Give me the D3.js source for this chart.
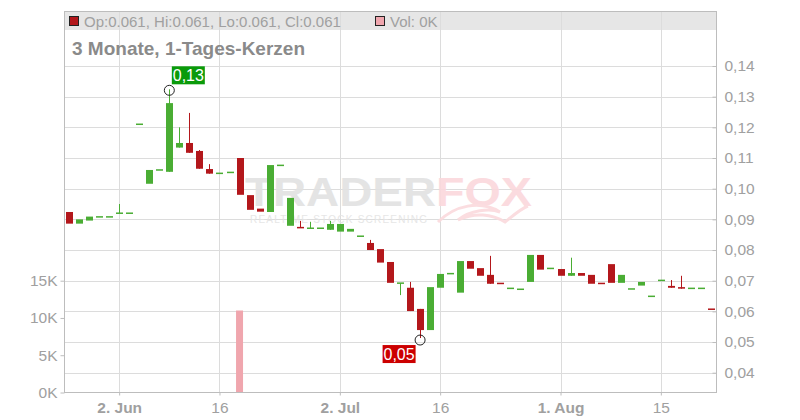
<!DOCTYPE html>
<html><head><meta charset="utf-8">
<script src="https://cdn.jsdelivr.net/npm/d3@7"></script>
<style>body{margin:0;background:#fff}svg{display:block;font-family:"Liberation Sans",Arial,sans-serif}</style>
</head><body><svg id="c" width="800" height="420"></svg>
<script>
const dates = ["2025-05-26","2025-05-27","2025-05-28","2025-05-29","2025-05-30",
"2025-06-02","2025-06-03","2025-06-04","2025-06-05","2025-06-06","2025-06-09","2025-06-10","2025-06-11","2025-06-12","2025-06-13",
"2025-06-16","2025-06-17","2025-06-18","2025-06-19","2025-06-20","2025-06-23","2025-06-24","2025-06-25","2025-06-26","2025-06-27","2025-06-30",
"2025-07-01","2025-07-02","2025-07-03","2025-07-04","2025-07-07","2025-07-08","2025-07-09","2025-07-10","2025-07-11",
"2025-07-14","2025-07-15","2025-07-16","2025-07-17","2025-07-18","2025-07-21","2025-07-22","2025-07-23","2025-07-24","2025-07-25",
"2025-07-28","2025-07-29","2025-07-30","2025-07-31","2025-08-01","2025-08-04","2025-08-05","2025-08-06","2025-08-07","2025-08-08",
"2025-08-11","2025-08-12","2025-08-13","2025-08-14","2025-08-15","2025-08-18","2025-08-19","2025-08-20","2025-08-21","2025-08-22"];
const open  = [0.0924,0.0886,0.0896,0.0908,0.0908,0.0920,0.0920,0.1210,0.1016,0.1061,0.1055,0.1134,0.1149,0.1123,0.1064,0.1050,0.1053,0.1100,0.0979,0.0935,0.0924,0.1076,0.0879,0.0873,0.0871,0.0871,0.0866,0.0860,0.0860,0.0845,0.0823,0.0803,0.0761,0.0692,0.0677,0.0608,0.0539,0.0677,0.0721,0.0661,0.0764,0.0741,0.0719,0.0691,0.0675,0.0672,0.0696,0.0784,0.0740,0.0738,0.0716,0.0725,0.0719,0.0691,0.0754,0.0693,0.0673,0.0684,0.0649,0.0701,0.0683,0.0679,0.0675,0.0675,0.0607];
const high  = [0.0924,0.0900,0.0909,0.0908,0.0908,0.0950,0.0920,0.1210,0.1061,0.1061,0.1324,0.1200,0.1247,0.1126,0.1080,0.1050,0.1053,0.1100,0.0979,0.0935,0.1077,0.1076,0.0970,0.0895,0.0892,0.0871,0.0895,0.0885,0.0869,0.0845,0.0833,0.0803,0.0761,0.0692,0.0696,0.0608,0.0679,0.0722,0.0725,0.0764,0.0764,0.0741,0.0781,0.0691,0.0675,0.0672,0.0784,0.0784,0.0740,0.0738,0.0775,0.0725,0.0719,0.0691,0.0754,0.0719,0.0673,0.0696,0.0649,0.0701,0.0702,0.0716,0.0675,0.0675,0.0607];
const low   = [0.0886,0.0886,0.0896,0.0908,0.0908,0.0920,0.0920,0.1210,0.1016,0.1061,0.1055,0.1134,0.1117,0.1065,0.1049,0.1050,0.1053,0.0980,0.0931,0.0925,0.0924,0.1076,0.0879,0.0873,0.0871,0.0871,0.0866,0.0860,0.0860,0.0845,0.0800,0.0759,0.0693,0.0653,0.0601,0.0513,0.0539,0.0677,0.0721,0.0661,0.0739,0.0716,0.0690,0.0691,0.0675,0.0672,0.0696,0.0736,0.0738,0.0716,0.0716,0.0716,0.0690,0.0691,0.0693,0.0693,0.0673,0.0684,0.0649,0.0701,0.0677,0.0674,0.0675,0.0675,0.0607];
const close = [0.0886,0.0900,0.0909,0.0908,0.0908,0.0920,0.0920,0.1210,0.1061,0.1061,0.1279,0.1149,0.1117,0.1065,0.1049,0.1050,0.1053,0.0980,0.0931,0.0925,0.1077,0.1076,0.0970,0.0873,0.0871,0.0871,0.0885,0.0885,0.0869,0.0845,0.0800,0.0759,0.0693,0.0692,0.0601,0.0539,0.0679,0.0722,0.0725,0.0764,0.0739,0.0716,0.0690,0.0691,0.0675,0.0672,0.0784,0.0736,0.0740,0.0716,0.0725,0.0716,0.0690,0.0691,0.0693,0.0719,0.0673,0.0696,0.0649,0.0701,0.0677,0.0674,0.0675,0.0675,0.0607];
const up    = [0,1,1,1,1,1,1,1,1,1,1,1,0,0,0,1,1,0,0,0,1,1,1,0,1,1,1,1,1,1,0,0,0,1,0,0,1,1,1,1,0,0,0,0,1,1,1,0,1,0,1,0,0,0,0,1,1,1,1,1,0,0,1,1,0];
const volume = [0,0,0,0,0,0,0,0,0,0,0,0,0,0,0,0,0,11000,0,0,0,0,0,0,0,0,0,0,0,0,0,0,0,0,0,0,0,0,0,0,0,0,0,0,0,0,0,0,0,0,0,0,0,0,0,0,0,0,0,0,0,0,0,0,0];
const priceTicks = [0.04,0.05,0.06,0.07,0.08,0.09,0.10,0.11,0.12,0.13,0.14];
const volTicks = [0,5000,10000,15000];
const xTickDates = ["2025-06-02","2025-06-16","2025-07-02","2025-07-16","2025-08-01","2025-08-15"];
const xTickLabels = ["2. Jun","16","2. Jul","16","1. Aug","15"];
const xTickBold = [true,false,true,false,true,false];
const hiIdx = 10, loIdx = 35;
const hiLabel = "0,13", loLabel = "0,05";
const legendText = "Op:0.061, Hi:0.061, Lo:0.061, Cl:0.061";
const volLegend = "Vol: 0K";
const title = "3 Monate, 1-Tages-Kerzen";

const L = 64, R = 716, T = 11.5, B = 392.5;
const GREEN = "#4aad34", RED = "#b3171b", GRID = "#dcdcdc", AX = "#bdbdbd", TXT = "#a0a0a0";
const svg = d3.select("#c");
const x = d3.scalePoint().domain(dates).range([L, R]).padding(0.5);
const y = d3.scaleLinear().domain([0.04, 0.14]).range([372.7, 66]);
const yv = d3.scaleLinear().domain([0, 15000]).range([B, 280.7]);
const fmt = d3.format(".2f");

// legend bar bg
svg.append("rect").attr("x", L).attr("y", T).attr("width", R - L).attr("height", 18.5).attr("fill", "#e6e6e6");

// grid
svg.append("g").selectAll("line").data(priceTicks).join("line")
  .attr("x1", L).attr("x2", R).attr("y1", d => Math.round(y(d)) + 0.5).attr("y2", d => Math.round(y(d)) + 0.5)
  .attr("stroke", GRID).attr("stroke-width", 1);
svg.append("g").selectAll("line").data(xTickDates).join("line")
  .attr("x1", d => Math.round(x(d)) + 0.5).attr("x2", d => Math.round(x(d)) + 0.5).attr("y1", T).attr("y2", B)
  .attr("stroke", GRID).attr("stroke-width", 1);

// watermark
const wm = svg.append("g").attr("opacity", 0.9);
wm.append("text").attr("x", 245).attr("y", 205.5).attr("font-size", 40).attr("font-weight", "bold")
  .attr("textLength", 191).attr("lengthAdjust", "spacingAndGlyphs").attr("fill", "#e2e2e2").text("TRADER");
wm.append("text").attr("x", 436).attr("y", 205.5).attr("font-size", 40).attr("font-weight", "bold")
  .attr("textLength", 96).attr("lengthAdjust", "spacingAndGlyphs").attr("fill", "#fbd8dc").text("FOX");
wm.append("text").attr("x", 250).attr("y", 223.3).attr("font-size", 10)
  .attr("textLength", 177).attr("lengthAdjust", "spacing").attr("fill", "#e4e4e4").text("REALTIME STOCK SCREENING");
wm.append("path").attr("d", "M438,222 C455,205 480,200 500,212 C490,208 470,210 458,220 C475,212 492,214 505,222 C515,214 522,208 528,206")
  .attr("fill", "none").attr("stroke", "#fbdadd").attr("stroke-width", 3);

// volume bars
svg.append("g").selectAll("rect").data(dates.map((d, i) => ({d, v: volume[i]})).filter(o => o.v > 0)).join("rect")
  .attr("x", o => x(o.d) - 3.5).attr("width", 7).attr("y", o => yv(o.v)).attr("height", o => B - yv(o.v))
  .attr("fill", "#f0a6ae");

// candles
const candles = dates.map((d, i) => ({d, o: open[i], h: high[i], l: low[i], c: close[i], up: up[i]}));
const cg = svg.append("g");
cg.selectAll("line").data(candles.filter(k => k.h > Math.max(k.o, k.c) + 1e-9 || k.l < Math.min(k.o, k.c) - 1e-9)).join("line")
  .attr("x1", k => Math.round(x(k.d)) + 0.5).attr("x2", k => Math.round(x(k.d)) + 0.5)
  .attr("y1", k => y(k.h)).attr("y2", k => y(k.l))
  .attr("stroke", k => k.up ? GREEN : RED).attr("stroke-width", 1);
cg.selectAll("rect").data(candles).join("rect")
  .attr("x", k => Math.round(x(k.d)) - 3).attr("width", 7)
  .attr("y", k => { const t = y(Math.max(k.o, k.c)), b = y(Math.min(k.o, k.c)); return b - t < 1.5 ? (t + b) / 2 - 0.75 : t; })
  .attr("height", k => Math.max(1.5, y(Math.min(k.o, k.c)) - y(Math.max(k.o, k.c))))
  .attr("fill", k => k.up ? GREEN : RED);

// axes lines / border
svg.append("line").attr("x1", L + 0.5).attr("x2", L + 0.5).attr("y1", T).attr("y2", B).attr("stroke", AX);
svg.append("line").attr("x1", R + 0.5).attr("x2", R + 0.5).attr("y1", T).attr("y2", B).attr("stroke", AX);
svg.append("line").attr("x1", L).attr("x2", R + 1).attr("y1", T).attr("y2", T).attr("stroke", AX);
svg.append("line").attr("x1", L).attr("x2", R + 1).attr("y1", B).attr("y2", B).attr("stroke", AX);

// right price axis
const ra = svg.append("g").attr("transform", `translate(${R + 0.5},0)`)
  .call(d3.axisRight(y).tickValues(priceTicks).tickSize(-4).tickPadding(8).tickFormat(d => fmt(d).replace(".", ",")));
ra.select(".domain").remove();
ra.selectAll("line").attr("stroke", AX);
ra.selectAll("text").attr("fill", TXT).attr("font-size", 15.5).attr("font-family", "Liberation Sans, Arial, sans-serif");

// left volume axis
const la = svg.append("g").attr("transform", `translate(${L + 0.5},0)`)
  .call(d3.axisLeft(yv).tickValues(volTicks).tickSize(4).tickPadding(3).tickFormat(d => (d / 1000) + "K"));
la.select(".domain").remove();
la.selectAll("line").attr("stroke", AX);
la.selectAll("text").attr("fill", TXT).attr("font-size", 15.5).attr("font-family", "Liberation Sans, Arial, sans-serif");

// bottom axis
const ba = svg.append("g").attr("transform", `translate(0,${B})`)
  .call(d3.axisBottom(x).tickValues(xTickDates).tickSize(3).tickPadding(6).tickFormat((d, i) => xTickLabels[i]));
ba.select(".domain").remove();
ba.selectAll("line").attr("stroke", AX);
ba.selectAll("text").attr("fill", TXT).attr("font-size", 15.5).attr("font-family", "Liberation Sans, Arial, sans-serif")
  .attr("font-weight", (d, i) => xTickBold[i] ? "bold" : "normal");

// high / low markers
function marker(i, val, label, color, below) {
  const cx = x(dates[i]), cy = y(val) + (below ? 2 : 1);
  svg.append("circle").attr("cx", cx).attr("cy", cy).attr("r", 5).attr("fill", "none").attr("stroke", "#222").attr("stroke-width", 1);
  const g = svg.append("g");
  const bx = below ? cx - 37.5 : cx + 2.5, by = below ? cy + 5 : cy - 24;
  g.append("rect").attr("x", bx).attr("y", by).attr("width", 33).attr("height", 18).attr("fill", color);
  g.append("text").attr("x", bx + 16.5).attr("y", by + 15).attr("text-anchor", "middle").attr("fill", "#fff")
    .attr("font-size", 16).text(label);
}
marker(hiIdx, high[hiIdx], hiLabel, "#0a9a0a", false);
marker(loIdx, low[loIdx], loLabel, "#cc0000", true);

// legend
svg.append("rect").attr("x", 69.5).attr("y", 16.5).attr("width", 9).attr("height", 9).attr("fill", RED).attr("stroke", "#222");
svg.append("text").attr("x", 84).attr("y", 26.5).attr("font-size", 15).attr("fill", TXT).text(legendText);
svg.append("rect").attr("x", 375.5).attr("y", 16.5).attr("width", 9).attr("height", 9).attr("fill", "#f0a6ae").attr("stroke", "#222");
svg.append("text").attr("x", 390).attr("y", 26.5).attr("font-size", 15).attr("fill", TXT).text(volLegend);

// title
svg.append("text").attr("x", 72).attr("y", 54.5).attr("font-size", 19).attr("font-weight", "bold").attr("fill", "#8a8a8a").text(title);
</script></body></html>
